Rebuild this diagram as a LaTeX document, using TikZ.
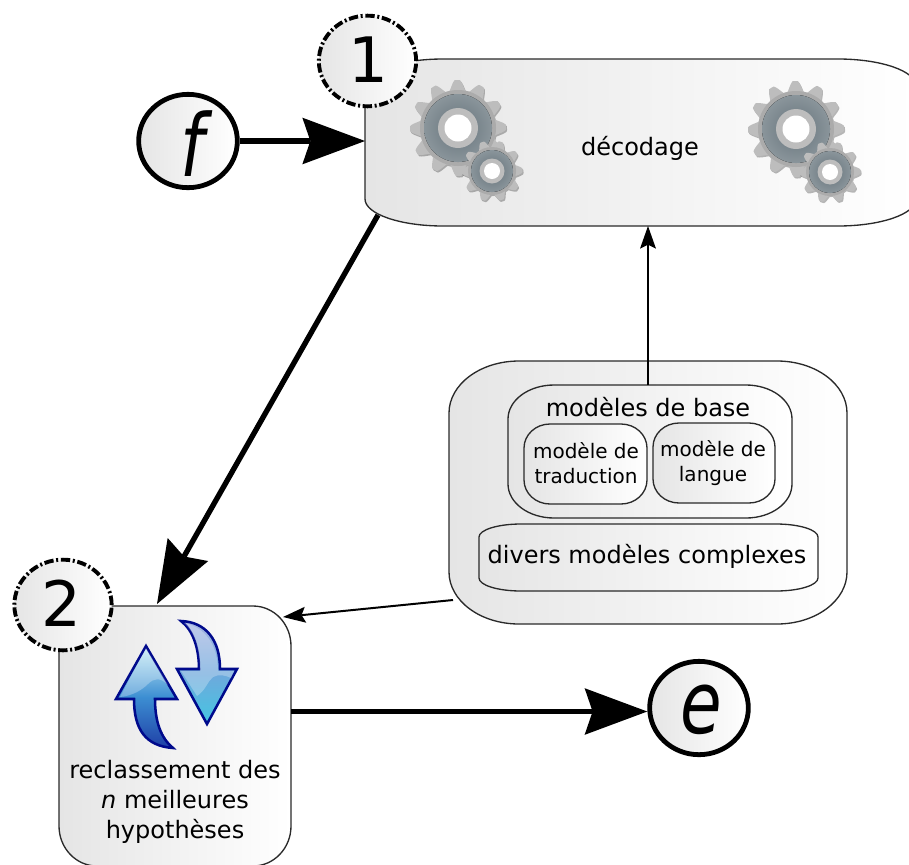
\documentclass[tikz,border=0pt]{standalone}
\usepackage{fontspec}
\setmainfont{DejaVu Sans}
\usetikzlibrary{arrows.meta,calc,shapes.geometric}
\definecolor{boxl}{HTML}{E5E5E5}
\definecolor{edgec}{HTML}{2A2A2A}
\definecolor{navy}{HTML}{000A8C}
\newcommand{\rbox}[7]{%
  \pgfmathsetmacro{\ax}{#6*.4477}\pgfmathsetmacro{\ay}{#7*.4477}%
  \draw[boxline,left color=boxl,right color=white]
    ({#2+#6},#3) -- ({#4-#6},#3)
    .. controls ({#4-\ax},#3) and (#4,{#3+\ay}) .. (#4,{#3+#7})
    -- (#4,{#5-#7})
    .. controls (#4,{#5-\ay}) and ({#4-\ax},#5) .. ({#4-#6},#5)
    -- ({#2+#6},#5)
    .. controls ({#2+\ax},#5) and (#2,{#5-\ay}) .. (#2,{#5-#7})
    -- (#2,{#3+#7})
    .. controls (#2,{#3+\ay}) and ({#2+\ax},#3) .. ({#2+#6},#3) -- cycle;
  \pgfmathsetmacro{\bw}{(#4-#2)*.75}\pgfmathsetmacro{\bh}{(#5-#3)*.75}%
  \node[inner sep=0pt,outer sep=0pt,minimum width=\bw pt,minimum height=\bh pt] (#1) at ({(#2+#4)/2},{(#3+#5)/2}) {};
}
\newcommand{\gearbody}[5]{% cx cy R a n
  \fill[black,opacity=.28] plot[domain=0:360,samples=361,variable=\t]
    ({#1+1+(#3+#4*min(1,max(-1,1.25*cos(#5*\t+10))))*cos(\t)},{#2+1.5+(#3+#4*min(1,max(-1,1.25*cos(#5*\t+10))))*sin(\t)}) -- cycle;
  \fill[gearlight] plot[domain=0:360,samples=361,variable=\t]
    ({#1+(#3+#4*min(1,max(-1,1.25*cos(#5*\t+10))))*cos(\t)},{#2+(#3+#4*min(1,max(-1,1.25*cos(#5*\t+10))))*sin(\t)}) -- cycle;
}
\newcommand{\gearrings}[6]{% cx cy r1 r2 r3 r4
  \fill[gearmid] (#1,#2) ellipse[x radius=#3,y radius=#3];
  \fill[inner color=gearin,outer color=gearout] (#1,#2) ellipse[x radius=#4,y radius=#4];
  \fill[gearlight] (#1,#2) ellipse[x radius=#5,y radius=#5];
  \fill[white] (#1,#2) ellipse[x radius=#6,y radius=#6];
}
\newcommand{\gearpair}[2]{% big centre
  \gearbody{#1}{#2}{43}{5}{12}
  \gearrings{#1}{#2}{38}{34}{20}{13.5}
  \pgfmathsetmacro{\sx}{#1+34}\pgfmathsetmacro{\sy}{#2+43}%
  \gearbody{\sx}{\sy}{27}{3.5}{10}
  \gearrings{\sx}{\sy}{24}{21}{12.5}{8}
}
\definecolor{gearlight}{HTML}{BDBDBD}
\definecolor{gearmid}{HTML}{ABABAB}
\definecolor{gearin}{HTML}{65727A}
\definecolor{gearout}{HTML}{8A959B}
\definecolor{upa}{HTML}{C6ECF6}
\definecolor{upb}{HTML}{3C8ED2}
\definecolor{upc}{HTML}{1F3FA6}
\definecolor{dna}{HTML}{A8B6E2}
\definecolor{dnb}{HTML}{6FA8DC}
\definecolor{dnc}{HTML}{45C6E2}
\tikzset{
  boxline/.style={draw=edgec,line width=1pt},
  token/.style={ellipse,draw=black,line width=3.6pt,left color=boxl,right color=white,inner sep=0pt,minimum width=74pt,minimum height=70pt},
  stepmark/.style={ellipse,draw=black,line width=2.9pt,dash pattern=on 7pt off 2pt on 1.5pt off 2pt,left color=boxl,right color=white,inner sep=0pt,minimum width=73pt,minimum height=68pt},
  bigtext/.style={anchor=base,inner sep=0pt,font=\fontsize{65}{65}\selectfont\itshape},
  numtext/.style={anchor=base,inner sep=0pt,font=\fontsize{47}{47}\selectfont},
  lab/.style={anchor=base,inner sep=0pt,font=\fontsize{18}{18}\selectfont},
  labs/.style={anchor=base,inner sep=0pt,font=\fontsize{15}{15}\selectfont},
  thickarrow/.style={line width=4pt,-{Stealth[length=47pt,width=35pt,inset=6pt,line width=0pt,sep=0pt]}},
  thinarrow/.style={line width=1.5pt,-{Stealth[length=17pt,width=12pt,inset=3pt,line width=0pt,sep=0pt]}},
  arrowout/.style={draw=navy,line width=1.9pt,line join=miter},
  gloss/.style={fill=white,opacity=.28},
}
\begin{document}
\begin{tikzpicture}[x=.75pt,y=-.75pt]
\useasboundingbox (0,0) rectangle (909,864);
% boxes
\rbox{box1}{365}{59}{916}{226}{78}{27}
\rbox{box2}{59}{606}{291}{866}{38}{40}
\rbox{models}{449}{361}{847}{624}{70}{52}
\rbox{base}{508}{385}{792}{518}{46}{34}
\rbox{trad}{524}{424}{647}{504}{26}{24}
\rbox{lang}{653}{423}{775}{503}{26}{24}
\rbox{divers}{479}{524}{818}{591}{42}{13}
% gears
\gearpair{458}{128}
\gearpair{796}{129}
% sync icon
\draw[arrowout,top color=upa,bottom color=upc,middle color=upb]
  (146,646) -- (177,699) -- (155,699) .. controls (155,722) and (161,738) .. (173,748)
  .. controls (146,746) and (134,730) .. (134,699) -- (116,699) -- cycle;
\fill[gloss] (146,648) -- (168,685) .. controls (160,677) and (154,678) .. (148,684)
  .. controls (142,690) and (132,696) .. (120,697) -- cycle;
\draw[arrowout,top color=dna,bottom color=dnc,middle color=dnb]
  (207,724) -- (237,669) -- (220,669) .. controls (220,640) and (206,622) .. (181,621)
  .. controls (193,630) and (199,648) .. (199,669) -- (177,669) -- cycle;
\fill[gloss] (184,623) .. controls (195,632) and (200,650) .. (200,671) -- (181,671)
  -- (197,696) .. controls (206,690) and (207,682) .. (213,677)
  .. controls (219,674) and (225,675) .. (231,678) -- (234,671) -- (218,671)
  .. controls (218,645) and (205,627) .. (184,623) -- cycle;
% tokens and step marks
\node[token] (f) at (188,141) {};
\node[token] (e) at (699,708) {};
\node[stepmark] (one) at (367.5,61) {};
\node[stepmark] (two) at (63,605) {};
\node[bigtext] (ftext) at (192,176) {\scalebox{.78}[1]{f}};
\node[bigtext] (etext) at (701,733) {\scalebox{.78}[1]{e}};
\node[numtext] (onetext) at (368,82) {1};
\node[numtext] (twotext) at (61,626) {2};
% texts
\node[lab] (dec) at (640,155) {décodage};
\node[lab] (basetext) at (648,416) {modèles de base};
\node[lab] (diverstext) at (647,563) {divers modèles complexes};
\node[labs] (t1) at (586,458) {modèle de};
\node[labs] (t2) at (586,483) {traduction};
\node[labs] (l1) at (713,456) {modèle de};
\node[labs] (l2) at (713,481) {langue};
\node[lab] (r1) at (175,778) {reclassement des};
\node[lab] (r2) at (175,808) {\textit{n} meilleures};
\node[lab] (r3) at (175,838) {hypothèses};
% connectors
\coordinate (baseup) at ($(base.north)+(-2,0)$);
\coordinate (b1out) at ($(box1.south west)+(13,-11)$);
\coordinate (b2in) at ($(box2.north west)+(98,-2)$);
\coordinate (mout) at ($(models.south west)+(4,-24)$);
\coordinate (b2side) at ($(box2.north east)+(-8,11)$);
\coordinate (ein) at ($(e.west)+(0,3.5)$);
\draw[thickarrow] (f.east) -- (f.east -| box1.west);
\draw[thickarrow] (b1out) -- (b2in);
\draw[thickarrow] (ein -| box2.east) -- (ein);
\draw[thinarrow] (baseup) -- (baseup |- box1.south);
\draw[thinarrow] (mout) -- (b2side);
\end{tikzpicture}
\end{document}
